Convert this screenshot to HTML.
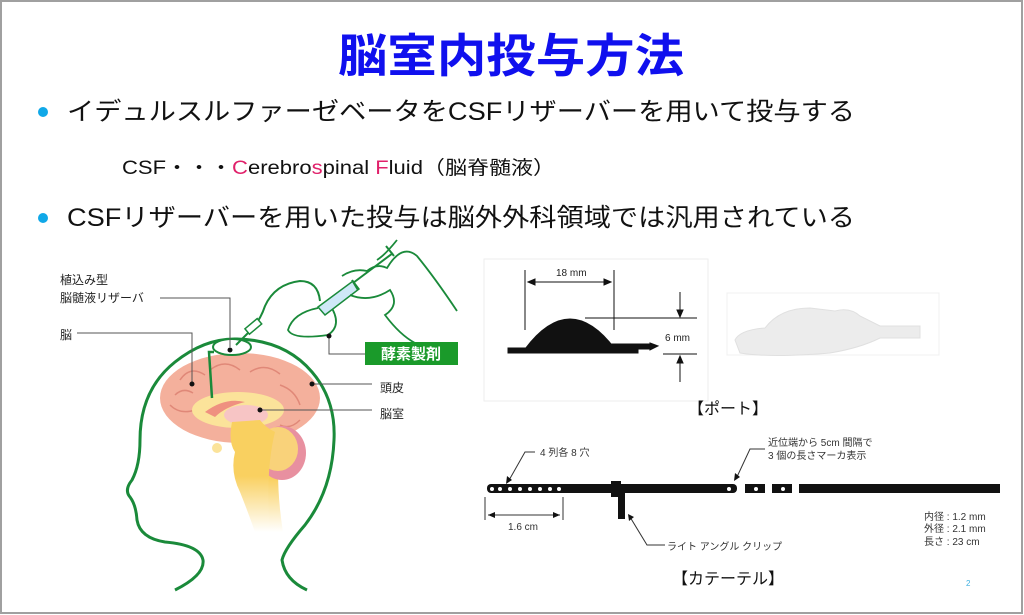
<!DOCTYPE html>
<html><head><meta charset="utf-8"><style>
body{margin:0;width:1024px;height:615px;background:#fff;overflow:hidden;font-family:"Liberation Sans","Noto Sans CJK JP",sans-serif}
svg{position:absolute;left:0;top:0}
</style></head><body>
<svg width="1024" height="615" viewBox="0 0 1024 615" font-family="Liberation Sans, Noto Sans CJK JP, sans-serif">
<defs><linearGradient id="bs" x1="0" y1="0" x2="0" y2="1"><stop offset="0.5" stop-color="#f9d060"/><stop offset="1" stop-color="#fff"/></linearGradient></defs>
<rect x="1" y="1" width="1021" height="612" fill="#fff" stroke="#a0a0a0" stroke-width="2"/>
<text x="338" y="72" textLength="346" lengthAdjust="spacingAndGlyphs" font-size="46" font-weight="bold" fill="#1010ee">脳室内投与方法</text>
<circle cx="43" cy="112" r="5" fill="#10a8e8"/>
<text x="67" y="120" textLength="788" lengthAdjust="spacingAndGlyphs" font-size="25" fill="#111">イデュルスルファーゼベータをCSFリザーバーを用いて投与する</text>
<text x="122" y="174" textLength="433" lengthAdjust="spacingAndGlyphs" font-size="19" fill="#111">CSF・・・<tspan fill="#e0206a">C</tspan>erebro<tspan fill="#e0206a">s</tspan>pinal <tspan fill="#e0206a">F</tspan>luid（脳脊髄液）</text>
<circle cx="43" cy="218" r="5" fill="#10a8e8"/>
<text x="67" y="226" textLength="788" lengthAdjust="spacingAndGlyphs" font-size="25" fill="#111">CSFリザーバーを用いた投与は脳外外科領域では汎用されている</text>

<!-- brain diagram -->
<g>
<path d="M250 425 q-8 25 -5 45 q8 35 18 62 l20 0 q-8 -50 -3 -95z" fill="url(#bs)"/>
<ellipse cx="240" cy="398" rx="80" ry="45" fill="#f4b09c"/>
<path d="M180 380 q10 -15 25 -5 M210 370 q15 -12 30 0 M250 372 q15 -10 30 2 M280 385 q15 5 20 20 M170 405 q10 10 25 5 M300 420 q-10 10 -20 5 M175 395 q8 -8 18 -2" stroke="#e08878" stroke-width="1.5" fill="none"/>
<ellipse cx="282" cy="453" rx="24" ry="27" fill="#e890a0"/>
<ellipse cx="278" cy="449" rx="20" ry="22" fill="#f9d27a"/>
<ellipse cx="238" cy="410" rx="46" ry="18" fill="#fbe39a"/>
<path d="M205 412 q20 -15 40 -10 q-20 5 -30 15z" fill="#ef9080"/>
<ellipse cx="246" cy="415" rx="22" ry="10" fill="#f7c5c5"/>
<path d="M232 422 q-4 20 3 30 q-5 20 5 40 q8 20 15 40 l15 0 q-5 -60 5 -100 q-10 -5 -15 -12z" fill="url(#bs)"/>
<circle cx="217" cy="448" r="5" fill="#fbe39a"/>
<path d="M175 590 Q205 575 203 560 Q200 545 165 542 Q140 538 137 520 Q136 505 130 497 Q124 490 132 480 Q140 465 140 440 Q140 390 175 362 Q205 338 237 339 Q285 340 312 372 Q336 400 334 440 Q332 490 305 525 Q285 548 282 560 Q285 580 307 590" fill="none" stroke="#1a8a3a" stroke-width="3"/>
<ellipse cx="232" cy="347" rx="19" ry="8" fill="#fff" stroke="#1a8a3a" stroke-width="2"/>
<path d="M214 352 l-5 0 l3 46" fill="none" stroke="#1a8a3a" stroke-width="2.5"/>
<path d="M236 345 l14 -14 q10 -10 15 -25 q10 -22 35 -25 q18 0 20 20" fill="none" stroke="#1a8a3a" stroke-width="2"/>
<rect x="245" y="323" width="16" height="7" fill="#fff" stroke="#1a8a3a" stroke-width="1.5" transform="rotate(-40 253 326)"/>
<path d="M318 308 q-25 5 -30 22 q5 10 40 5 q15 -10 2 -30" fill="none" stroke="#1a8a3a" stroke-width="1.8"/>
<path d="M318 307 l35 -26 l6 8 l-34 26z" fill="#cfe8f8" stroke="#1a8a3a" stroke-width="1.5"/>
<path d="M353 283 l40 -30 M386 246 l8 10 M352 280 l6 10" stroke="#1a8a3a" stroke-width="2"/>
<path d="M342 276 q12 -8 25 -5 q10 -8 20 -3 q15 -25 30 -12 q18 22 40 55 M350 295 q20 8 40 -5 q10 15 -5 25 q15 20 30 28 M377 260 q8 -5 20 -20" fill="none" stroke="#1a8a3a" stroke-width="1.8"/>
<rect x="365" y="342" width="93" height="23" fill="#1a9a2a"/>
<text x="411" y="359" text-anchor="middle" font-size="15" font-weight="bold" fill="#fff">酵素製剤</text>
<g stroke="#555" stroke-width="1" fill="none">
<path d="M160 298 h70 v49"/><path d="M77 333 h115 v51"/><path d="M329 336 v18 h36"/><path d="M260 410 h112"/><path d="M312 384 h60"/>
</g>
<g fill="#111"><circle cx="230" cy="350" r="2.5"/><circle cx="192" cy="384" r="2.5"/><circle cx="329" cy="336" r="2.5"/><circle cx="260" cy="410" r="2.5"/><circle cx="312" cy="384" r="2.5"/></g>
<g font-size="12" fill="#222"><text x="60" y="284">植込み型</text><text x="60" y="302">脳髄液リザーバ</text><text x="60" y="339">脳</text><text x="380" y="392">頭皮</text><text x="380" y="418">脳室</text></g>
</g>

<!-- port -->
<rect x="484" y="259" width="224" height="142" fill="none" stroke="#eee"/>
<g stroke="#111" fill="#111">
<line x1="525" y1="270" x2="525" y2="330" stroke-width="1"/><line x1="614" y1="270" x2="614" y2="330" stroke-width="1"/>
<line x1="528" y1="282" x2="611" y2="282" stroke-width="1"/>
<path d="M528 282 l7 -3 v6z M611 282 l-7 -3 v6z"/>
<path d="M525 349 q45 -60 90 0z"/>
<rect x="508" y="348" width="130" height="5"/>
<rect x="610" y="344" width="40" height="5"/><path d="M650 343 l8 3 l-8 4z"/>
<line x1="585" y1="318" x2="697" y2="318" stroke-width="1"/><line x1="663" y1="354" x2="697" y2="354" stroke-width="1"/>
<line x1="680" y1="292" x2="680" y2="316" stroke-width="1"/><path d="M677 310 l3 7 l3 -7z"/>
<line x1="680" y1="356" x2="680" y2="382" stroke-width="1"/><path d="M677 363 l3 -7 l3 7z"/>
</g>
<g font-size="10" fill="#222"><text x="556" y="276">18 mm</text><text x="665" y="341">6 mm</text></g>
<rect x="727" y="293" width="212" height="62" fill="none" stroke="#f0f0f0"/>
<path d="M735 340 q5 -10 30 -12 q15 -20 45 -20 l25 3 q15 -4 25 5 l20 10 h40 v12 h-40 q-20 10 -50 15 q-60 5 -90 0z" fill="#ececec" stroke="#e0e0e0"/>
<text x="728" y="414" text-anchor="middle" font-size="16" fill="#111">【ポート】</text>

<!-- catheter -->
<g fill="#111">
<rect x="487" y="484" width="250" height="9" rx="4"/>
<rect x="745" y="484" width="20" height="9"/><rect x="772" y="484" width="20" height="9"/><rect x="799" y="484" width="201" height="9"/>
<rect x="611" y="481" width="10" height="16"/><rect x="618" y="492" width="7" height="27"/>
</g>
<g fill="#fff"><circle cx="492" cy="489" r="2"/><circle cx="500" cy="489" r="2"/><circle cx="510" cy="489" r="2"/><circle cx="520" cy="489" r="2"/><circle cx="530" cy="489" r="2"/><circle cx="540" cy="489" r="2"/><circle cx="550" cy="489" r="2"/><circle cx="559" cy="489" r="2"/><circle cx="729" cy="489" r="2"/><circle cx="756" cy="489" r="2"/><circle cx="783" cy="489" r="2"/></g>
<g stroke="#333" fill="none" stroke-width="1">
<path d="M535 452 h-10 l-17 30"/><path d="M765 449 h-15 l-14 30"/><path d="M665 545 h-18 l-17 -28"/>
<line x1="485" y1="497" x2="485" y2="520"/><line x1="563" y1="497" x2="563" y2="520"/><line x1="488" y1="515" x2="560" y2="515"/>
</g>
<g fill="#111"><path d="M506 484 l1 -8 l5 4z"/><path d="M734 481 l1 -8 l5 4z"/><path d="M628 514 l6 3 l-5 4z"/><path d="M488 515 l7 -3 v6z M560 515 l-7 -3 v6z"/></g>
<g font-size="10" fill="#333">
<text x="540" y="456">4 列各 8 穴</text><text x="768" y="446">近位端から 5cm 間隔で</text><text x="768" y="459">3 個の長さマーカ表示</text>
<text x="508" y="530">1.6 cm</text><text x="667" y="550">ライト アングル クリップ</text>
<text x="924" y="520">内径 : 1.2 mm</text><text x="924" y="532">外径 : 2.1 mm</text><text x="924" y="545">長さ : 23 cm</text>
</g>
<text x="728" y="584" text-anchor="middle" font-size="16" fill="#111">【カテーテル】</text>
<text x="966" y="586" font-size="8" fill="#40b0e0">2</text>
</svg>
</body></html>
